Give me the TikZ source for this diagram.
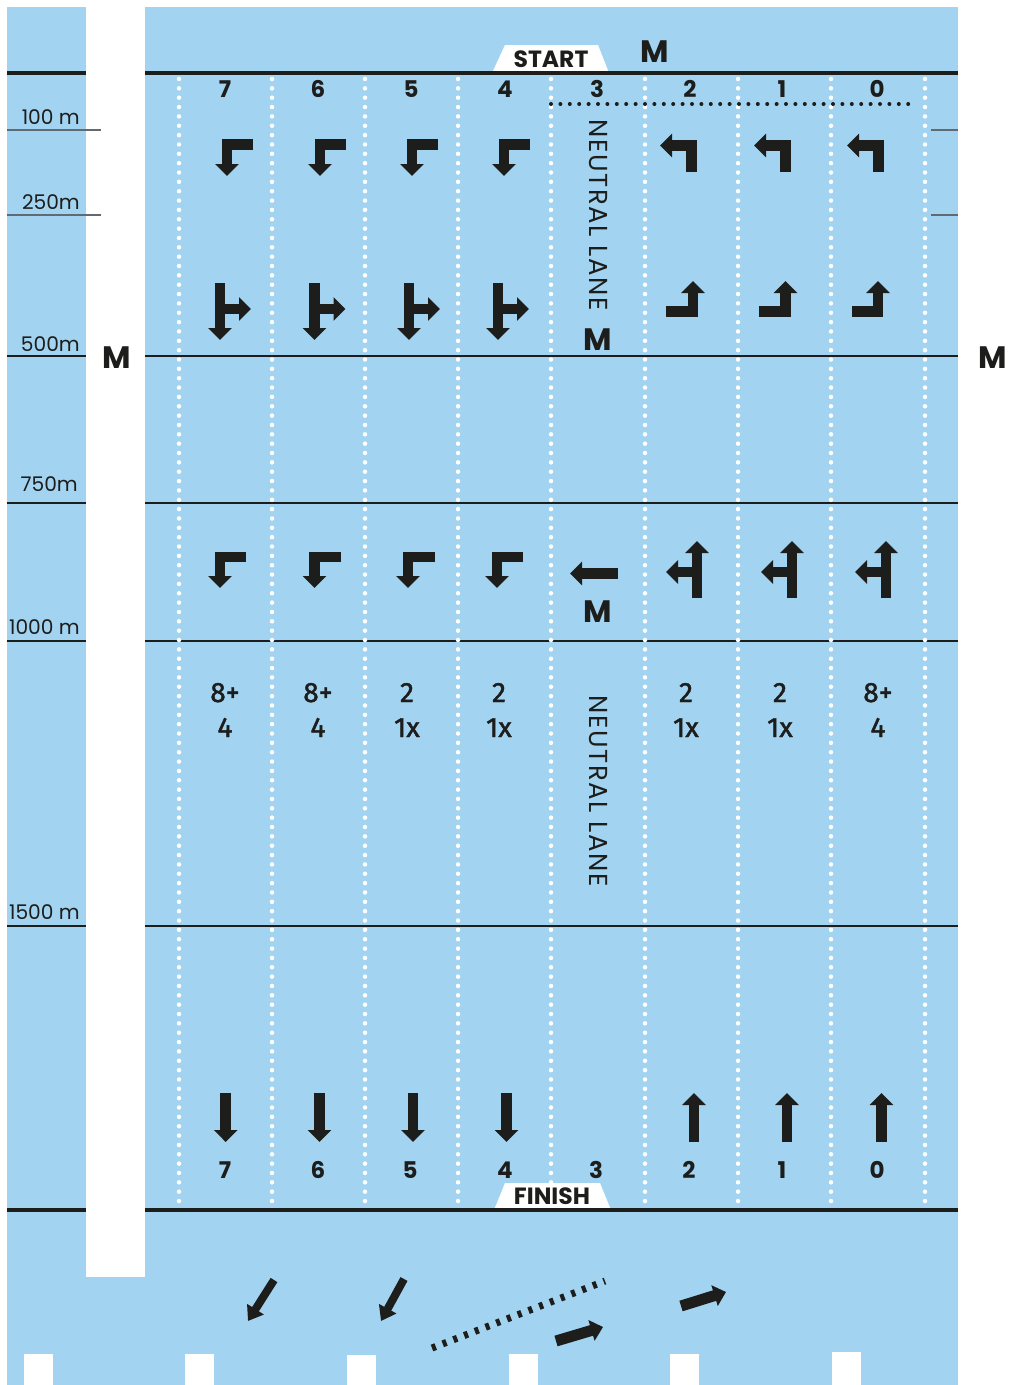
\documentclass[tikz,border=0pt]{standalone}
\usepackage{fontspec}
\setmainfont{Poppins}
\newfontfamily\countfont[FakeBold=1.5]{Fira Sans}
\newfontfamily\lanefont[LetterSpace=6]{Poppins}
\usepackage{xcolor}
\definecolor{poolblue}{RGB}{162,211,241}
\definecolor{ink}{RGB}{29,29,27}
\definecolor{tickgray}{RGB}{96,106,114}
\usepackage{tikz}
\usetikzlibrary{arrows.meta}

\begin{document}
\begin{tikzpicture}[x=1pt, y=-1pt,
  lanenum/.style={font=\fontsize{23}{23}\selectfont\bfseries, text=ink, anchor=base, inner sep=0pt},
  distlabel/.style={font=\fontsize{20.2}{20.2}\selectfont, text=ink, anchor=base east, inner sep=0pt},
  bigM/.style={font=\fontsize{31}{31}\selectfont\bfseries, text=ink},
  tabtext/.style={font=\fontsize{23.5}{23.5}\selectfont\bfseries, text=ink, anchor=base, inner sep=0pt},
  neutral/.style={font=\lanefont\fontsize{26}{26}\selectfont, text=ink, rotate=-90},
  setcount/.style={font=\countfont\fontsize{28}{35}\selectfont, text=ink, align=center},
  lanearrow/.style={draw=ink, line width=10.5pt, line join=miter, -{Triangle[width=23pt,length=12pt]}},
  swimarrow/.style={draw=ink, line width=8pt, -{Triangle[width=19pt,length=14pt]}},
  kickarrow/.style={draw=ink, line width=11pt, -{Triangle[width=21pt,length=12pt]}},
  lanedots/.style={white, line width=4.5pt, line cap=round, dash pattern=on 0pt off 9.35pt}]
  \useasboundingbox (0,0) rectangle (1011,1385);
  \fill[white] (0,0) rectangle (1011,1385);

  % Water
  \fill[poolblue] (7,7) rectangle (86,1385);
  \fill[poolblue] (145,7) rectangle (958,1385);
  \fill[poolblue] (7,1277) rectangle (958,1385);
  % Notches along the bottom edge
  \fill[white] (24,1354) rectangle (53,1385);
  \fill[white] (185,1354) rectangle (214,1385);
  \fill[white] (347,1355) rectangle (376,1385);
  \fill[white] (509,1354) rectangle (538,1385);
  \fill[white] (670,1354) rectangle (699,1385);
  \fill[white] (832,1352) rectangle (861,1385);

  % Start and finish tabs
  \fill[white] (492,73) -- (505,45) -- (598,45) -- (609,73) -- cycle;
  \fill[white] (494,1210) -- (505,1183) -- (600,1183) -- (611,1210) -- cycle;

  % --- Distance lines ---
  \draw[ink, line width=4pt] (7,73) -- (86,73);
  \draw[ink, line width=4pt] (145,73) -- (958,73);
  \draw[tickgray, line width=1.3pt] (7,130) -- (101,130);
  \draw[tickgray, line width=1.3pt] (7,215) -- (101,215);
  \draw[tickgray, line width=1.3pt] (931,130) -- (958,130);
  \draw[tickgray, line width=1.3pt] (931,215) -- (958,215);
  \draw[ink, line width=1.8pt] (7,356) -- (86,356);
  \draw[ink, line width=1.8pt] (145,356) -- (958,356);
  \draw[ink, line width=1.8pt] (7,503) -- (86,503);
  \draw[ink, line width=1.8pt] (145,503) -- (958,503);
  \draw[ink, line width=1.8pt] (7,641) -- (86,641);
  \draw[ink, line width=1.8pt] (145,641) -- (958,641);
  \draw[ink, line width=1.8pt] (7,926) -- (86,926);
  \draw[ink, line width=1.8pt] (145,926) -- (958,926);
  \draw[ink, line width=4.5pt] (7,1210) -- (86,1210);
  \draw[ink, line width=4.5pt] (145,1210) -- (958,1210);

  % --- Lane ropes ---
  \draw[lanedots] (179,79) -- (179,1206);
  \draw[lanedots] (272,79) -- (272,1206);
  \draw[lanedots] (365,79) -- (365,1206);
  \draw[lanedots] (458,79) -- (458,1206);
  \draw[lanedots] (551,79) -- (551,1206);
  \draw[lanedots] (645,79) -- (645,1206);
  \draw[lanedots] (738,79) -- (738,1206);
  \draw[lanedots] (831,79) -- (831,1206);
  \draw[lanedots] (925,79) -- (925,1206);
  \draw[ink, line width=4pt, line cap=round, dash pattern=on 0pt off 9.4pt] (551,104) -- (910,104);

  % Distance labels
  \node[distlabel] (d100) at (80,124) {100 m};
  \node[distlabel] (d250) at (80,209) {250m};
  \node[distlabel] (d500) at (80,351) {500m};
  \node[distlabel] (d750) at (78,491) {750m};
  \node[distlabel] (d1000) at (80,634) {1000 m};
  \node[distlabel] (d1500) at (80,919) {1500 m};

  % Tab texts and markers
  \node[tabtext] (start) at (551,67) {START};
  \node[tabtext] (finish) at (552,1204) {FINISH};
  \node[bigM] (mtop) at (655,52) {M};
  \node[bigM] (mleft) at (117,358) {M};
  \node[bigM] (mright) at (993,358) {M};
  \node[bigM] (mlaneA) at (598,340) {M};
  \node[bigM] (mlaneB) at (598,612) {M};
  \node[neutral] (neutralA) at (598,215) {NEUTRAL LANE};
  \node[neutral] (neutralB) at (598,791) {NEUTRAL LANE};

  % Lane numbers, top
  \node[lanenum] (top7) at (225,97) {7};
  \node[lanenum] (top6) at (318,97) {6};
  \node[lanenum] (top5) at (411,97) {5};
  \node[lanenum] (top4) at (505,97) {4};
  \node[lanenum] (top3) at (597,97) {3};
  \node[lanenum] (top2) at (690,97) {2};
  \node[lanenum] (top1) at (782,97) {1};
  \node[lanenum] (top0) at (877,97) {0};
  % Lane numbers, bottom
  \node[lanenum] (bot7) at (225,1178) {7};
  \node[lanenum] (bot6) at (318,1178) {6};
  \node[lanenum] (bot5) at (410,1178) {5};
  \node[lanenum] (bot4) at (505,1178) {4};
  \node[lanenum] (bot3) at (596,1178) {3};
  \node[lanenum] (bot2) at (689,1178) {2};
  \node[lanenum] (bot1) at (782,1178) {1};
  \node[lanenum] (bot0) at (877,1178) {0};

  % --- Row 1: after the start ---
  \draw[lanearrow] (253,144.5) -- (227,144.5) -- (227,176);
  \draw[lanearrow] (346,144.5) -- (320,144.5) -- (320,176);
  \draw[lanearrow] (438,144.5) -- (412,144.5) -- (412,176);
  \draw[lanearrow] (530,144.5) -- (504,144.5) -- (504,176);
  \draw[lanearrow] (691.5,172) -- (691.5,145.5) -- (660,145.5);
  \draw[lanearrow] (785.5,172) -- (785.5,145.5) -- (754,145.5);
  \draw[lanearrow] (878.5,172) -- (878.5,145.5) -- (847,145.5);

  % --- Row 2: before 500m ---
  \draw[lanearrow] (220,283) -- (220,340);
  \draw[lanearrow] (220,309) -- (251,309);
  \draw[lanearrow] (314.5,283) -- (314.5,340);
  \draw[lanearrow] (314.5,309) -- (345.5,309);
  \draw[lanearrow] (409,283) -- (409,340);
  \draw[lanearrow] (409,309) -- (440,309);
  \draw[lanearrow] (498,283) -- (498,340);
  \draw[lanearrow] (498,309) -- (529,309);
  \draw[lanearrow] (666,311.5) -- (693,311.5) -- (693,281);
  \draw[lanearrow] (759,311.5) -- (785.5,311.5) -- (785.5,281);
  \draw[lanearrow] (852,311.5) -- (878,311.5) -- (878,281);

  % --- Row 3: 750m to 1000m ---
  \draw[lanearrow] (246,557) -- (220,557) -- (220,588);
  \draw[lanearrow] (341,557) -- (314.5,557) -- (314.5,588);
  \draw[lanearrow] (435,557) -- (408,557) -- (408,588);
  \draw[lanearrow] (523,557) -- (497,557) -- (497,588);
  \draw[lanearrow] (618,573.5) -- (570,573.5);
  \draw[lanearrow] (697,598) -- (697,541);
  \draw[lanearrow] (697,572) -- (666,572);
  \draw[lanearrow] (792,598) -- (792,541);
  \draw[lanearrow] (792,572) -- (761,572);
  \draw[lanearrow] (886,598) -- (886,541);
  \draw[lanearrow] (886,572) -- (855,572);

  % --- Sets ---
  \node[setcount] (set7) at (225,710) {8+\\4};
  \node[setcount] (set6) at (318,710) {8+\\4};
  \node[setcount] (set5) at (407,710) {2\\1x};
  \node[setcount] (set4) at (499,710) {2\\1x};
  \node[setcount] (set2) at (686,710) {2\\1x};
  \node[setcount] (set1) at (780,710) {2\\1x};
  \node[setcount] (set0) at (878,710) {8+\\4};

  % --- Row 4: to the finish ---
  \draw[lanearrow] (225.7,1093) -- (225.7,1142);
  \draw[lanearrow] (319.5,1093) -- (319.5,1142);
  \draw[lanearrow] (413,1093) -- (413,1142);
  \draw[lanearrow] (506.5,1093) -- (506.5,1142);
  \draw[lanearrow] (694,1142) -- (694,1093);
  \draw[lanearrow] (787,1142) -- (787,1093);
  \draw[lanearrow] (881.5,1142) -- (881.5,1093);

  % --- Exit area ---
  \draw[swimarrow] (274,1280) -- (248,1321);
  \draw[swimarrow] (404,1279) -- (381,1321);
  \draw[ink, line width=7pt, dash pattern=on 4pt off 7.5pt] (432,1348) -- (605,1281);
  \draw[kickarrow] (556,1341) -- (603,1327);
  \draw[kickarrow] (681,1306) -- (726,1292);
\end{tikzpicture}
\end{document}
